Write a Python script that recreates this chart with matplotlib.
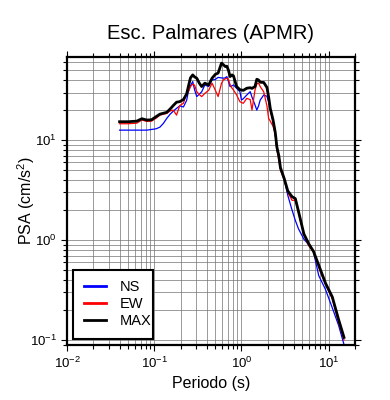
import numpy as np
import matplotlib
matplotlib.use('Agg')
import matplotlib.pyplot as plt
from matplotlib.ticker import LogLocator

plt.rcParams['font.family'] = ['Liberation Sans', 'DejaVu Sans']
plt.rcParams['mathtext.default'] = 'regular'

# periodo (s)
periodo = [0.04, 0.05, 0.063, 0.072, 0.082, 0.093, 0.105, 0.116, 0.127, 0.139,
           0.152, 0.165, 0.18, 0.196, 0.216, 0.235, 0.246, 0.26, 0.276, 0.29,
           0.307, 0.33, 0.35, 0.38, 0.42, 0.46, 0.5, 0.54, 0.59, 0.62,
           0.65, 0.68, 0.71, 0.74, 0.78, 0.81, 0.88, 0.96, 1.0, 1.05,
           1.15, 1.26, 1.32, 1.43, 1.5, 1.57, 1.64, 1.8, 1.96, 2.05,
           2.14, 2.3, 2.44, 2.55, 2.68, 2.8, 3.1, 3.4, 3.8, 4.15,
           4.5, 5.2, 5.9, 6.7, 7.7, 9.2, 11.0, 13.0, 15.0]

psa_max = [15.3, 15.3, 15.5, 16.4, 15.9, 16.0, 17.2, 18.2, 18.6, 19.0,
           20.5, 22.2, 24.0, 24.3, 25.5, 29.0, 34.4, 42.0, 45.0, 43.0,
           41.7, 37.0, 34.4, 37.2, 35.7, 41.7, 45.5, 47.0, 59.0, 57.0,
           54.7, 55.0, 50.0, 43.3, 45.0, 44.0, 34.4, 32.0, 31.8, 31.5,
           33.1, 33.5, 33.0, 34.4, 40.7, 40.0, 38.0, 37.8, 33.7, 27.0,
           20.8, 16.0, 12.0, 8.5, 7.0, 5.3, 4.1, 3.1, 2.72, 2.6,
           1.95, 1.15, 0.92, 0.77, 0.56, 0.37, 0.27, 0.16, 0.106]

psa_ns = [12.6, 12.6, 12.6, 12.6, 12.6, 12.8, 13.0, 13.5, 14.7, 16.5,
          18.2, 19.5, 20.8, 22.0, 21.5, 25.0, 30.6, 35.0, 38.6, 32.0,
          27.3, 29.0, 30.5, 35.7, 34.4, 40.1, 40.5, 42.5, 42.0, 41.7,
          42.0, 43.3, 38.6, 34.4, 35.0, 35.7, 33.0, 30.6, 25.2, 26.0,
          28.3, 30.6, 27.0, 22.5, 20.0, 22.0, 25.2, 28.3, 27.5, 24.0,
          20.0, 15.5, 11.5, 8.0, 6.8, 5.2, 4.0, 2.8, 2.0, 1.57,
          1.3, 1.02, 0.90, 0.76, 0.44, 0.32, 0.21, 0.14, 0.09]

psa_ew = [14.6, 14.6, 14.8, 15.9, 15.4, 15.5, 16.6, 17.8, 18.2, 18.5,
          19.6, 20.0, 17.8, 22.2, 23.4, 29.4, 30.6, 34.4, 36.3, 35.5,
          30.6, 28.5, 27.3, 29.4, 31.5, 37.2, 31.8, 27.3, 37.0, 40.1,
          41.0, 41.7, 40.5, 36.0, 33.1, 31.8, 28.3, 24.3, 23.8, 23.4,
          26.2, 25.5, 20.0, 31.8, 36.5, 37.2, 34.4, 30.5, 22.0, 16.5,
          15.5, 13.8, 11.5, 8.0, 6.3, 5.0, 4.0, 3.0, 2.5, 2.5,
          1.9, 1.12, 0.88, 0.76, 0.53, 0.36, 0.26, 0.15, 0.10]

fig = plt.figure(figsize=(3.9, 4.0), dpi=100)
ax = fig.add_axes([0.172, 0.1375, 0.738, 0.72])

ax.plot(periodo, psa_ns, color='blue', lw=0.9, label='NS')
ax.plot(periodo, psa_ew, color='red', lw=0.9, label='EW')
ax.plot(periodo, psa_max, color='black', lw=2.0, label='MAX')

ax.set_xscale('log')
ax.set_yscale('log')
ax.set_xlim(0.01, 20)
ax.set_ylim(0.089, 68)

ax.xaxis.set_minor_locator(LogLocator(base=10, subs=np.arange(2, 10)))
ax.yaxis.set_minor_locator(LogLocator(base=10, subs=np.arange(2, 10)))
ax.grid(True, which='both', color='0.45', lw=0.5)

ax.tick_params(which='both', direction='out', top=True, right=True,
               labelsize=9.5, width=0.8)
ax.tick_params(which='major', length=4)
ax.tick_params(which='minor', length=3)
for s in ax.spines.values():
    s.set_linewidth(1.6)

ax.set_title('Esc. Palmares (APMR)', fontsize=14.5, pad=13)
ax.set_xlabel('Periodo (s)', fontsize=11.5, labelpad=4)
ax.set_ylabel('PSA (cm/s$^2$)', fontsize=11.5, labelpad=-5)

lg = ax.legend(loc='lower left', bbox_to_anchor=(0.022, 0.02, 0.278, 0.25),
               mode='expand', borderaxespad=0, fancybox=False, framealpha=1,
               edgecolor='black', fontsize=10.5, handlelength=1.5,
               handletextpad=0.9, labelspacing=0.2, borderpad=0.75)
lg.get_frame().set_linewidth(1.5)
for ln in lg.get_lines():
    ln.set_linewidth(2.0)

fig.savefig('out.png', dpi=100)
